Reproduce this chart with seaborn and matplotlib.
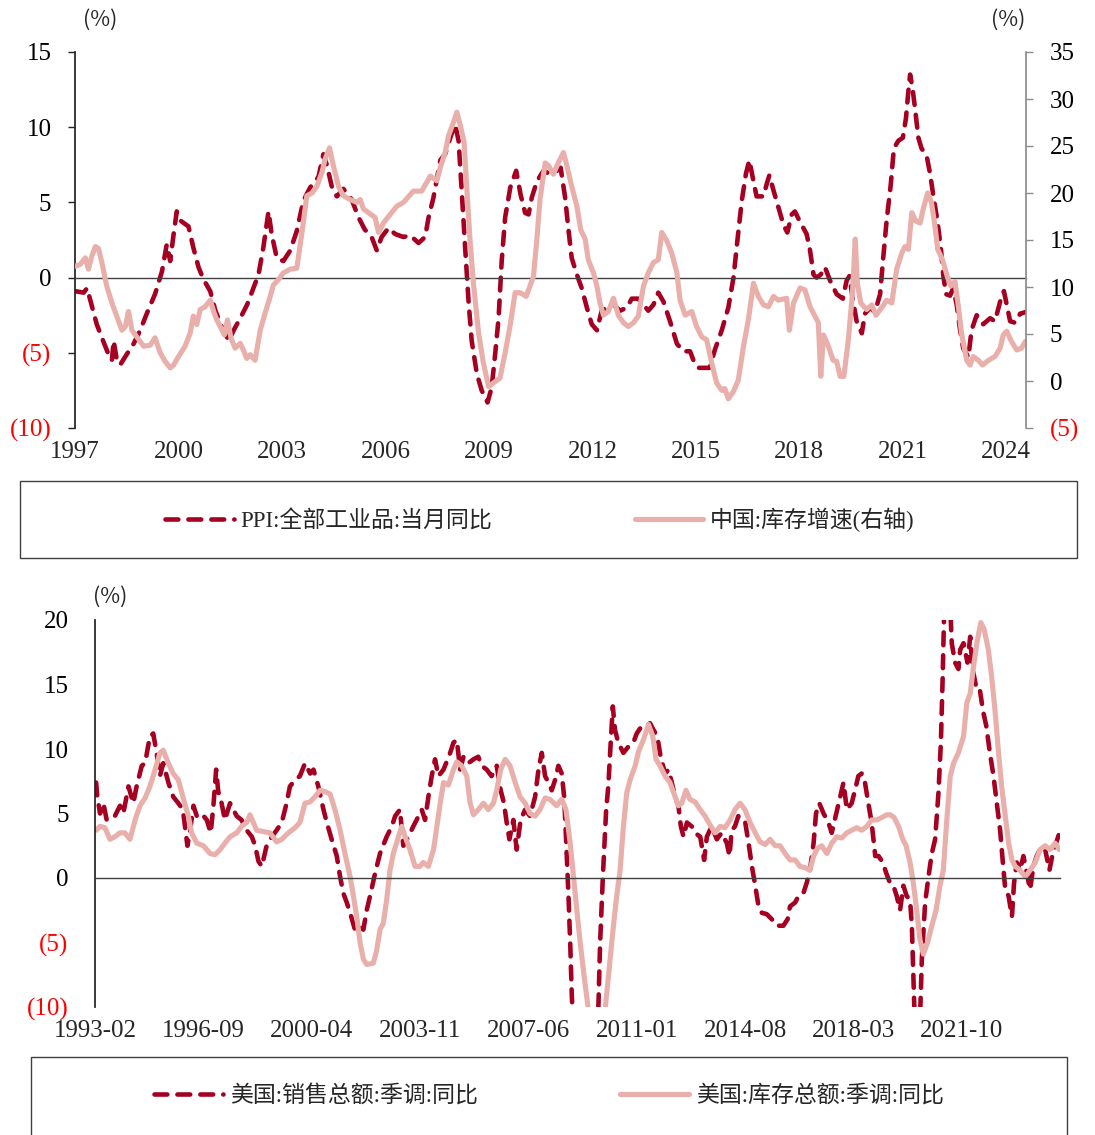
import matplotlib
matplotlib.use("Agg")
import matplotlib.pyplot as plt
from matplotlib.patches import Rectangle
import pandas as pd
import seaborn as sns

# ---- top panel: China PPI (left axis) vs China inventory growth (right axis)
ppi_year = [
    1997.00, 1997.25, 1997.35, 1997.50, 1997.63, 1997.78, 1997.97, 1998.07, 1998.12, 1998.20,
    1998.31, 1998.50, 1998.70, 1998.89, 1999.08, 1999.32, 1999.52, 1999.66, 1999.76, 1999.86,
    1999.95, 2000.05, 2000.29, 2000.43, 2000.58, 2000.72, 2000.92, 2001.07, 2001.26, 2001.46,
    2001.60, 2001.79, 2001.99, 2002.17, 2002.32, 2002.46, 2002.61, 2002.70, 2002.85, 2003.04,
    2003.24, 2003.43, 2003.62, 2003.82, 2004.06, 2004.20, 2004.30, 2004.45, 2004.59, 2004.78,
    2005.02, 2005.22, 2005.40, 2005.60, 2005.75, 2005.89, 2006.09, 2006.28, 2006.52, 2006.72,
    2006.96, 2007.15, 2007.25, 2007.39, 2007.59, 2007.73, 2007.88, 2008.02, 2008.12, 2008.21,
    2008.31, 2008.41, 2008.50, 2008.65, 2008.79, 2008.96, 2009.08, 2009.18, 2009.28, 2009.37,
    2009.47, 2009.62, 2009.79, 2009.92, 2010.05, 2010.15, 2010.24, 2010.39, 2010.58, 2010.77,
    2010.97, 2011.08, 2011.21, 2011.30, 2011.40, 2011.55, 2011.69, 2011.84, 2011.98, 2012.13,
    2012.27, 2012.42, 2012.61, 2012.80, 2013.00, 2013.14, 2013.33, 2013.48, 2013.62, 2013.77,
    2013.91, 2014.06, 2014.25, 2014.45, 2014.64, 2014.83, 2014.93, 2015.07, 2015.40, 2015.55,
    2015.75, 2015.94, 2016.09, 2016.20, 2016.33, 2016.45, 2016.55, 2016.67, 2016.76, 2016.96,
    2017.05, 2017.13, 2017.25, 2017.39, 2017.54, 2017.65, 2017.78, 2017.87, 2018.02, 2018.21,
    2018.31, 2018.41, 2018.50, 2018.62, 2018.74, 2018.89, 2019.08, 2019.26, 2019.37, 2019.45,
    2019.56, 2019.66, 2019.81, 2019.90, 2020.05, 2020.19, 2020.34, 2020.43, 2020.53, 2020.65,
    2020.74, 2020.87, 2021.00, 2021.09, 2021.16, 2021.21, 2021.28, 2021.35, 2021.45, 2021.54,
    2021.69, 2021.79, 2021.88, 2022.00, 2022.10, 2022.17, 2022.25, 2022.37, 2022.46, 2022.56,
    2022.66, 2022.75, 2022.90, 2022.99, 2023.14, 2023.33, 2023.53, 2023.67, 2023.82, 2023.93,
    2024.01, 2024.11, 2024.25, 2024.40, 2024.55,
]
ppi_val = [
    -0.9, -1.0, -0.7, -2.0, -3.1, -4.0, -5.1, -5.5, -4.2, -5.3,
    -5.8, -5.1, -4.4, -3.5, -2.4, -1.1, 0.4, 2.2, 1.1, 2.9,
    4.4, 3.8, 3.4, 2.0, 0.7, -0.1, -0.9, -2.2, -3.3, -4.2,
    -3.5, -2.7, -1.8, -0.7, 0.2, 2.0, 4.4, 2.9, 1.3, 1.1,
    1.8, 3.1, 5.1, 6.0, 6.7, 8.2, 7.5, 6.0, 5.4, 5.9,
    5.2, 4.0, 3.2, 2.7, 1.8, 2.7, 3.3, 2.9, 2.7, 2.8,
    2.3, 2.7, 4.0, 5.3, 7.8, 8.2, 9.3, 10.2, 9.1, 5.8,
    2.0, -1.6, -4.2, -6.4, -7.5, -8.3, -7.3, -5.1, -2.7, 1.1,
    4.0, 6.0, 7.1, 5.5, 4.3, 4.2, 5.3, 6.4, 7.1, 6.9,
    7.1, 7.3, 5.3, 3.3, 1.3, 0.2, -0.7, -2.0, -3.1, -3.5,
    -2.2, -2.0, -1.8, -2.2, -2.0, -1.4, -1.4, -1.8, -2.2, -1.8,
    -1.0, -1.6, -2.9, -4.4, -4.9, -4.9, -5.5, -6.0, -6.0, -4.8,
    -3.5, -2.0, 0.0, 2.4, 5.1, 6.9, 7.8, 6.4, 5.4, 5.4,
    6.2, 6.8, 5.8, 4.7, 3.5, 3.0, 4.2, 4.4, 3.7, 2.9,
    1.8, 0.2, 0.0, 0.2, 0.7, -0.2, -1.1, -1.4, -0.2, 0.1,
    -1.6, -2.9, -3.7, -2.4, -2.0, -2.3, -1.1, 1.3, 3.8, 6.2,
    8.6, 9.1, 9.3, 10.6, 12.4, 13.5, 12.6, 11.3, 9.3, 8.6,
    8.1, 6.9, 5.5, 3.8, 2.0, 0.2, -1.1, -1.2, -0.7, -1.8,
    -3.5, -4.7, -5.3, -3.5, -2.5, -3.1, -2.7, -2.9, -1.6, -0.9,
    -1.8, -2.9, -3.0, -2.4, -2.3,
]

cn_inv_year = [
    1997.00, 1997.15, 1997.30, 1997.39, 1997.49, 1997.59, 1997.68, 1997.78, 1997.92, 1998.07,
    1998.21, 1998.36, 1998.46, 1998.55, 1998.65, 1998.79, 1998.99, 1999.18, 1999.32, 1999.47,
    1999.61, 1999.76, 1999.86, 2000.00, 2000.19, 2000.34, 2000.43, 2000.53, 2000.63, 2000.77,
    2000.92, 2001.02, 2001.11, 2001.21, 2001.33, 2001.42, 2001.52, 2001.64, 2001.79, 2001.88,
    2001.98, 2002.08, 2002.22, 2002.37, 2002.51, 2002.66, 2002.75, 2002.90, 2003.04, 2003.24,
    2003.43, 2003.58, 2003.72, 2003.87, 2004.01, 2004.16, 2004.25, 2004.38, 2004.49, 2004.64,
    2004.78, 2004.98, 2005.17, 2005.27, 2005.36, 2005.51, 2005.70, 2005.80, 2005.94, 2006.09,
    2006.33, 2006.52, 2006.81, 2007.05, 2007.30, 2007.49, 2007.59, 2007.73, 2007.83, 2007.97,
    2008.07, 2008.17, 2008.28, 2008.36, 2008.45, 2008.55, 2008.70, 2008.84, 2008.99, 2009.13,
    2009.32, 2009.47, 2009.61, 2009.76, 2009.90, 2010.08, 2010.19, 2010.29, 2010.39, 2010.48,
    2010.63, 2010.73, 2010.87, 2011.01, 2011.16, 2011.26, 2011.40, 2011.55, 2011.66, 2011.79,
    2011.88, 2012.03, 2012.13, 2012.22, 2012.32, 2012.46, 2012.61, 2012.75, 2012.90, 2013.04,
    2013.19, 2013.33, 2013.48, 2013.62, 2013.77, 2013.91, 2014.01, 2014.16, 2014.30, 2014.45,
    2014.54, 2014.69, 2014.88, 2015.02, 2015.17, 2015.31, 2015.46, 2015.60, 2015.75, 2015.84,
    2015.94, 2016.09, 2016.23, 2016.38, 2016.52, 2016.67, 2016.81, 2016.96, 2017.10, 2017.25,
    2017.39, 2017.63, 2017.71, 2017.83, 2018.02, 2018.16, 2018.31, 2018.45, 2018.55, 2018.62,
    2018.70, 2018.84, 2018.98, 2019.08, 2019.18, 2019.29, 2019.42, 2019.54, 2019.62, 2019.68,
    2019.78, 2019.95, 2020.10, 2020.22, 2020.39, 2020.53, 2020.68, 2020.82, 2020.97, 2021.06,
    2021.16, 2021.26, 2021.38, 2021.50, 2021.59, 2021.72, 2021.83, 2021.93, 2022.01, 2022.15,
    2022.29, 2022.39, 2022.51, 2022.61, 2022.70, 2022.85, 2022.95, 2023.04, 2023.19, 2023.31,
    2023.48, 2023.67, 2023.82, 2023.91, 2024.01, 2024.15, 2024.30, 2024.44, 2024.55,
]
cn_inv_val = [
    12.2, 12.4, 13.1, 11.9, 13.3, 14.3, 14.1, 12.6, 10.1, 8.3,
    6.9, 5.4, 5.8, 7.4, 5.4, 4.7, 3.7, 3.8, 4.6, 3.0,
    2.1, 1.4, 1.7, 2.6, 3.7, 5.1, 6.9, 6.0, 7.6, 7.9,
    8.6, 7.4, 6.5, 5.8, 4.9, 6.5, 4.6, 3.5, 4.0, 3.3,
    2.4, 2.8, 2.2, 5.4, 7.2, 9.0, 10.2, 10.8, 11.5, 11.9,
    12.0, 15.8, 19.7, 20.0, 20.7, 22.2, 23.6, 24.8, 22.9, 20.7,
    19.7, 19.3, 19.0, 19.3, 18.3, 17.9, 17.4, 15.8, 16.8, 17.5,
    18.6, 19.0, 20.2, 20.2, 21.8, 21.3, 22.7, 24.3, 26.1, 27.5,
    28.6, 27.2, 25.4, 20.4, 15.1, 10.4, 5.1, 1.9, -0.6, -0.2,
    0.3, 3.0, 5.8, 9.4, 9.4, 9.0, 10.1, 11.1, 15.1, 19.3,
    23.2, 22.9, 22.0, 23.2, 24.3, 22.9, 20.7, 18.6, 16.1, 15.1,
    12.9, 11.5, 10.1, 8.3, 7.0, 7.4, 8.8, 7.0, 6.2, 5.8,
    6.2, 6.9, 10.1, 11.5, 12.6, 12.9, 15.8, 14.9, 13.6, 11.5,
    8.6, 7.0, 7.4, 5.8, 4.7, 4.4, 1.9, -0.2, -1.0, -0.8,
    -1.9, -1.1, 0.1, 3.7, 6.5, 10.4, 9.0, 8.1, 7.9, 9.0,
    8.6, 8.8, 5.4, 8.3, 9.9, 9.7, 7.9, 6.9, 6.2, 0.5,
    4.9, 3.7, 2.2, 2.1, 0.5, 0.5, 4.4, 9.4, 15.1, 10.4,
    8.3, 7.6, 8.1, 7.0, 7.8, 8.6, 8.3, 11.9, 13.6, 14.3,
    14.0, 17.9, 17.0, 16.8, 18.3, 20.0, 19.0, 16.5, 14.0, 12.9,
    11.1, 10.1, 10.6, 7.9, 5.1, 2.2, 1.7, 2.6, 2.2, 1.7,
    2.2, 2.6, 3.5, 4.9, 5.3, 4.2, 3.3, 3.5, 4.2,
]

top_xticks = ["1997", "2000", "2003", "2006", "2009", "2012", "2015", "2018", "2021", "2024"]
top_left_yticks = [-10, -5, 0, 5, 10, 15]
top_right_yticks = [-5, 0, 5, 10, 15, 20, 25, 30, 35]

# ---- bottom panel: US total business sales vs inventories, yoy
us_sales_year = [
    1993.12, 1993.16, 1993.25, 1993.36, 1993.47, 1993.63, 1993.74, 1993.91, 1994.02, 1994.19,
    1994.35, 1994.46, 1994.63, 1994.74, 1994.90, 1995.01, 1995.12, 1995.23, 1995.34, 1995.51,
    1995.67, 1995.84, 1995.99, 1996.14, 1996.23, 1996.34, 1996.45, 1996.61, 1996.78, 1996.91,
    1997.00, 1997.09, 1997.16, 1997.27, 1997.38, 1997.55, 1997.77, 1997.93, 1998.10, 1998.27,
    1998.38, 1998.49, 1998.60, 1998.76, 1998.93, 1999.09, 1999.26, 1999.42, 1999.53, 1999.70,
    1999.86, 2000.03, 2000.20, 2000.31, 2000.47, 2000.64, 2000.75, 2000.91, 2001.08, 2001.19,
    2001.30, 2001.41, 2001.52, 2001.68, 2001.79, 2001.96, 2002.07, 2002.18, 2002.35, 2002.51,
    2002.73, 2002.90, 2003.01, 2003.17, 2003.28, 2003.45, 2003.61, 2003.72, 2003.89, 2004.00,
    2004.11, 2004.22, 2004.33, 2004.44, 2004.61, 2004.83, 2004.94, 2005.05, 2005.16, 2005.27,
    2005.43, 2005.60, 2005.76, 2005.87, 2006.04, 2006.20, 2006.37, 2006.50, 2006.61, 2006.70,
    2006.79, 2006.92, 2007.03, 2007.16, 2007.31, 2007.47, 2007.64, 2007.75, 2007.86, 2007.97,
    2008.08, 2008.19, 2008.30, 2008.41, 2008.52, 2008.60, 2008.66, 2008.74, 2008.80, 2008.85,
    2008.95, 2009.10, 2009.30, 2009.50, 2009.65, 2009.73, 2009.79, 2009.88, 2009.99, 2010.06,
    2010.14, 2010.21, 2010.28, 2010.39, 2010.56, 2010.73, 2010.89, 2011.00, 2011.17, 2011.33,
    2011.44, 2011.55, 2011.68, 2011.79, 2011.94, 2012.05, 2012.16, 2012.27, 2012.38, 2012.46,
    2012.55, 2012.66, 2012.82, 2012.93, 2013.10, 2013.23, 2013.32, 2013.48, 2013.65, 2013.81,
    2013.98, 2014.07, 2014.14, 2014.25, 2014.36, 2014.47, 2014.59, 2014.70, 2014.81, 2014.92,
    2015.03, 2015.14, 2015.30, 2015.47, 2015.63, 2015.85, 2015.99, 2016.07, 2016.24, 2016.35,
    2016.51, 2016.62, 2016.73, 2016.85, 2016.93, 2017.04, 2017.18, 2017.34, 2017.45, 2017.60,
    2017.73, 2017.84, 2017.95, 2018.11, 2018.22, 2018.33, 2018.44, 2018.55, 2018.66, 2018.77,
    2018.89, 2019.00, 2019.14, 2019.25, 2019.38, 2019.49, 2019.60, 2019.71, 2019.82, 2019.93,
    2020.04, 2020.10, 2020.15, 2020.22, 2020.30, 2020.37, 2020.43, 2020.54, 2020.65, 2020.76,
    2020.87, 2020.98, 2021.06, 2021.12, 2021.20, 2021.27, 2021.37, 2021.42, 2021.53, 2021.64,
    2021.70, 2021.81, 2021.94, 2022.03, 2022.11, 2022.22, 2022.33, 2022.45, 2022.56, 2022.67,
    2022.80, 2022.91, 2023.02, 2023.11, 2023.19, 2023.30, 2023.41, 2023.48, 2023.57, 2023.68,
    2023.79, 2023.90, 2024.01, 2024.12, 2024.23, 2024.40, 2024.51, 2024.65, 2024.76, 2024.87,
    2024.98,
]
us_sales_val = [
    7.4, 6.3, 5.0, 5.8, 4.5, 4.7, 4.8, 5.6, 5.0, 7.1,
    5.8, 7.1, 8.7, 8.9, 11.0, 11.2, 9.7, 7.9, 8.9, 7.4,
    6.3, 5.8, 5.3, 2.5, 3.7, 5.6, 4.8, 5.0, 4.5, 3.5,
    5.6, 8.4, 6.7, 5.8, 4.5, 5.8, 4.8, 4.5, 3.7, 3.2,
    2.5, 1.3, 0.9, 2.5, 3.2, 3.7, 4.3, 5.8, 7.1, 7.6,
    7.9, 8.9, 8.1, 8.4, 7.1, 5.3, 4.3, 3.0, 1.7, 0.1,
    -1.2, -1.9, -2.7, -4.0, -3.7, -4.0, -2.5, -1.4, 0.4, 1.9,
    3.2, 4.0, 4.8, 5.3, 2.5, 3.2, 4.0, 4.5, 5.3, 4.5,
    6.3, 7.9, 9.2, 7.9, 8.4, 9.7, 10.5, 10.7, 8.4, 9.4,
    8.9, 9.2, 9.4, 8.7, 8.4, 7.9, 8.7, 6.8, 5.8, 4.3,
    3.0, 4.5, 2.2, 4.5, 5.3, 4.8, 6.3, 8.4, 9.7, 7.9,
    7.4, 6.8, 7.6, 8.7, 8.1, 6.3, 3.2, -1.2, -5.0, -8.9,
    -14.5, -18.0, -19.0, -16.0, -13.0, -10.2, -5.0, 0.1, 5.3, 7.1,
    10.5, 13.3, 11.5, 10.5, 9.7, 10.2, 10.5, 11.2, 11.8, 11.8,
    12.0, 11.5, 11.0, 9.4, 8.1, 8.4, 7.4, 6.3, 5.6, 4.0,
    3.2, 4.3, 4.0, 3.5, 3.2, 1.4, 3.2, 4.0, 3.0, 3.5,
    2.7, 1.7, 3.7, 4.0, 4.8, 4.4, 4.3, 2.7, 0.9, -0.6,
    -2.2, -2.7, -2.8, -3.2, -3.7, -3.7, -3.2, -2.2, -1.9, -1.4,
    -1.2, -0.4, 0.6, 2.7, 5.0, 5.8, 5.0, 4.3, 3.5, 5.0,
    6.3, 7.4, 5.3, 5.8, 6.8, 7.9, 8.1, 7.4, 5.8, 4.3,
    1.7, 1.7, 1.2, 0.4, -0.4, -0.6, -1.4, -2.5, -0.6, -1.4,
    -1.7, -3.7, -7.6, -13.0, -16.0, -11.0, -6.3, -1.9, 0.1, 1.9,
    3.0, 6.6, 10.5, 15.6, 24.0, 28.0, 21.0, 18.2, 16.7, 16.2,
    17.7, 18.2, 16.7, 18.7, 16.2, 14.9, 14.9, 13.0, 11.8, 9.9,
    7.9, 5.8, 3.7, 1.2, -0.9, -1.4, -3.0, -0.4, 1.2, 0.6,
    1.7, 0.4, -0.9, 0.9, 1.7, 2.5, 2.2, 0.6, 1.9, 2.7,
    3.5,
]

us_inv_year = [
    1993.12, 1993.25, 1993.41, 1993.58, 1993.74, 1993.91, 1994.07, 1994.24, 1994.41, 1994.57,
    1994.74, 1994.90, 1995.07, 1995.23, 1995.34, 1995.51, 1995.67, 1995.84, 1995.99, 1996.17,
    1996.28, 1996.45, 1996.67, 1996.89, 1997.05, 1997.22, 1997.38, 1997.55, 1997.77, 1997.93,
    1998.10, 1998.21, 1998.32, 1998.43, 1998.65, 1998.87, 1999.09, 1999.26, 1999.48, 1999.70,
    1999.86, 2000.03, 2000.20, 2000.36, 2000.53, 2000.69, 2000.86, 2001.02, 2001.19, 2001.35,
    2001.52, 2001.63, 2001.74, 2001.85, 2001.96, 2002.07, 2002.29, 2002.40, 2002.51, 2002.62,
    2002.73, 2002.84, 2002.95, 2003.12, 2003.23, 2003.34, 2003.50, 2003.67, 2003.83, 2003.94,
    2004.11, 2004.28, 2004.39, 2004.50, 2004.61, 2004.77, 2004.94, 2005.05, 2005.21, 2005.38,
    2005.49, 2005.60, 2005.76, 2005.93, 2006.09, 2006.26, 2006.37, 2006.50, 2006.65, 2006.81,
    2006.98, 2007.14, 2007.31, 2007.47, 2007.64, 2007.80, 2007.97, 2008.13, 2008.35, 2008.52,
    2008.66, 2008.80, 2008.91, 2009.02, 2009.13, 2009.26, 2009.40, 2009.55, 2009.70, 2009.80,
    2009.90, 2010.01, 2010.12, 2010.23, 2010.34, 2010.45, 2010.56, 2010.67, 2010.78, 2010.95,
    2011.06, 2011.22, 2011.39, 2011.53, 2011.64, 2011.77, 2011.94, 2012.10, 2012.27, 2012.38,
    2012.49, 2012.63, 2012.76, 2012.93, 2013.10, 2013.26, 2013.43, 2013.59, 2013.76, 2013.92,
    2014.09, 2014.25, 2014.42, 2014.58, 2014.75, 2014.92, 2015.08, 2015.25, 2015.41, 2015.58,
    2015.74, 2015.91, 2016.07, 2016.24, 2016.40, 2016.57, 2016.73, 2016.85, 2016.98, 2017.12,
    2017.29, 2017.45, 2017.62, 2017.78, 2017.95, 2018.11, 2018.28, 2018.44, 2018.61, 2018.77,
    2018.94, 2019.11, 2019.27, 2019.38, 2019.51, 2019.66, 2019.80, 2019.91, 2020.04, 2020.15,
    2020.26, 2020.37, 2020.48, 2020.62, 2020.76, 2020.90, 2021.03, 2021.14, 2021.25, 2021.37,
    2021.48, 2021.64, 2021.81, 2021.92, 2022.03, 2022.14, 2022.25, 2022.38, 2022.49, 2022.63,
    2022.74, 2022.85, 2022.96, 2023.07, 2023.19, 2023.30, 2023.41, 2023.52, 2023.68, 2023.85,
    2024.01, 2024.18, 2024.34, 2024.51, 2024.67, 2024.84, 2024.98,
]
us_inv_val = [
    3.7, 4.0, 3.9, 3.0, 3.2, 3.5, 3.5, 3.0, 4.5, 5.6,
    6.2, 7.1, 8.4, 9.7, 9.9, 8.9, 8.1, 7.6, 6.3, 4.8,
    3.5, 2.7, 2.5, 1.9, 1.8, 2.2, 2.7, 3.2, 3.5, 4.0,
    4.3, 4.9, 4.3, 3.7, 3.6, 3.5, 2.8, 3.0, 3.5, 3.9,
    4.3, 5.8, 5.9, 6.3, 6.8, 6.7, 6.5, 5.3, 3.7, 1.9,
    0.1, -1.4, -3.0, -5.0, -6.3, -6.7, -6.6, -5.6, -4.0, -3.5,
    -1.7, 0.6, 1.9, 3.2, 4.0, 3.2, 2.2, 0.9, 0.9, 1.2,
    0.9, 2.2, 4.0, 5.8, 7.4, 7.2, 8.4, 9.0, 8.7, 7.9,
    5.8, 4.9, 5.3, 5.8, 5.3, 5.8, 6.8, 8.4, 9.2, 8.7,
    7.4, 6.3, 5.8, 5.0, 4.8, 5.3, 6.2, 6.1, 5.6, 6.1,
    5.3, 2.7, 0.1, -2.5, -5.0, -7.6, -10.2, -12.5, -13.5, -12.8,
    -11.5, -8.9, -6.3, -3.7, -1.4, 0.6, 4.0, 6.6, 7.6, 8.7,
    9.8, 10.7, 11.9, 11.0, 9.2, 8.7, 7.9, 7.4, 6.3, 5.6,
    5.8, 6.8, 6.1, 5.9, 5.3, 4.8, 4.1, 3.5, 4.0, 3.9,
    4.5, 5.3, 5.8, 5.3, 4.3, 3.5, 2.8, 2.6, 3.0, 2.5,
    2.5, 1.9, 1.4, 1.4, 0.9, 0.8, 0.6, 1.7, 2.3, 2.5,
    1.9, 2.7, 3.2, 3.1, 3.5, 3.7, 3.9, 3.7, 4.0, 4.5,
    4.5, 4.7, 4.9, 4.9, 4.7, 4.0, 3.0, 2.5, 1.2, -0.4,
    -2.5, -4.8, -5.9, -5.0, -3.7, -2.5, -0.6, 0.6, 4.3, 7.9,
    8.9, 9.7, 11.0, 13.6, 14.3, 16.4, 18.2, 19.8, 19.3, 17.7,
    15.6, 13.0, 9.9, 7.1, 4.8, 2.7, 1.4, 0.9, 0.6, 0.1,
    0.6, 1.2, 2.2, 2.5, 2.2, 2.7, 2.2,
]

bottom_xticks = ["1993-02", "1996-09", "2000-04", "2003-11", "2007-06",
                 "2011-01", "2014-08", "2018-03", "2021-10"]
bottom_yticks = [-10, -5, 0, 5, 10, 15, 20]

top_labels = ["PPI:全部工业品:当月同比", "中国:库存增速(右轴)"]
bottom_labels = ["美国:销售总额:季调:同比", "美国:库存总额:季调:同比"]

DARK_RED = "#A50021"
PINK = "#E9AFAB"
W, H = 1095, 1135
LW_DASH = 3.3
LW_SOLID = 3.7


def tick_text(v):
    return f"({abs(v)})" if v < 0 else str(v)


def style_yticks(ax, ticks):
    ax.set_yticks(ticks)
    ax.set_yticklabels([tick_text(t) for t in ticks])
    for t, lab in zip(ticks, ax.get_yticklabels()):
        lab.set_color("#FF0000" if t < 0 else "black")


def zero_axis(ax, positions, labels, tick_len):
    # x axis drawn along y=0, labels pushed to the bottom of the panel
    ax.spines["bottom"].set_position(("data", 0))
    ax.spines["bottom"].set_color("#404040")
    ax.spines["bottom"].set_linewidth(1.0)
    ax.set_xticks(positions)
    ax.tick_params(axis="x", direction="out", length=tick_len, width=1,
                   color="#404040", labelbottom=False)
    for x, lab in zip(positions, labels):
        ax.annotate(lab, xy=(x, 0), xycoords=("data", "axes fraction"),
                    xytext=(0, -17.5), textcoords="offset points",
                    ha="center", va="center", fontsize=18)


def dashed(line):
    line.set_dashes((2.8, 2.2))
    line.set_dash_capstyle("round")


sns.set_theme(style="white")
plt.rcParams["font.family"] = ["Liberation Serif", "Noto Sans CJK SC", "DejaVu Sans"]

fig = plt.figure(figsize=(W / 100, H / 100), dpi=100)

# ================= top panel =================
ax1 = fig.add_axes([75 / W, 1 - 428 / H, (1026 - 75) / W, (428 - 52) / H])
ax1r = ax1.twinx()

top_ppi = pd.DataFrame({"year": ppi_year, "val": ppi_val})
top_inv = pd.DataFrame({"year": cn_inv_year, "val": cn_inv_val})

sns.lineplot(data=top_ppi, x="year", y="val", ax=ax1, color=DARK_RED,
             linewidth=LW_DASH, label=top_labels[0])
h_ppi = ax1.get_lines()[-1]
dashed(h_ppi)
sns.lineplot(data=top_inv, x="year", y="val", ax=ax1r, color=PINK,
             linewidth=LW_SOLID, label=top_labels[1])
h_cn = ax1r.get_lines()[-1]
for a in (ax1, ax1r):
    if a.get_legend() is not None:
        a.get_legend().remove()

ax1.set_xlim(1997, 2024.57)
ax1.set_ylim(-10, 15)
ax1r.set_ylim(-5, 35)
for a in (ax1, ax1r):
    a.set_xlabel("")
    a.set_ylabel("")
    a.grid(False)

style_yticks(ax1, top_left_yticks)
style_yticks(ax1r, top_right_yticks)
ax1.tick_params(axis="y", direction="out", length=5, width=1, color="#222222",
                pad=12, labelsize=18)
ax1r.tick_params(axis="y", direction="out", length=5, width=1, color="#8C8C8C",
                 pad=12, labelsize=18)
for s in ("top", "right"):
    ax1.spines[s].set_visible(False)
for s in ("top", "left", "bottom"):
    ax1r.spines[s].set_visible(False)
ax1.spines["left"].set_color("#222222")
ax1r.spines["right"].set_color("#8C8C8C")
zero_axis(ax1, [int(t) for t in top_xticks], top_xticks, 6)

pct_font = ["Noto Sans CJK SC", "DejaVu Sans"]
fig.text(100 / W, 1 - 20 / H, "(%)", ha="center", va="center", fontsize=15.5, family=pct_font)
fig.text(1008 / W, 1 - 20 / H, "(%)", ha="center", va="center", fontsize=15.5, family=pct_font)

# ================= bottom panel =================
ax2 = fig.add_axes([95 / W, 1 - 1007 / H, (1060 - 95) / W, (1007 - 620) / H])
bot_sales = pd.DataFrame({"year": us_sales_year, "val": us_sales_val})
bot_inv = pd.DataFrame({"year": us_inv_year, "val": us_inv_val})

sns.lineplot(data=bot_sales, x="year", y="val", ax=ax2, color=DARK_RED,
             linewidth=LW_DASH, label=bottom_labels[0])
h_sales = ax2.get_lines()[-1]
dashed(h_sales)
sns.lineplot(data=bot_inv, x="year", y="val", ax=ax2, color=PINK,
             linewidth=LW_SOLID, label=bottom_labels[1])
h_usinv = ax2.get_lines()[-1]
if ax2.get_legend() is not None:
    ax2.get_legend().remove()

ax2.set_xlim(1993 + 1 / 12, 2025.0)
ax2.set_ylim(-10, 20)
ax2.set_xlabel("")
ax2.set_ylabel("")
ax2.grid(False)
style_yticks(ax2, bottom_yticks)
ax2.tick_params(axis="y", direction="out", length=5, width=1, color="#222222",
                pad=14, labelsize=18)
for s in ("top", "right"):
    ax2.spines[s].set_visible(False)
ax2.spines["left"].set_color("#222222")
bx = [int(s[:4]) + (int(s[5:]) - 1) / 12 for s in bottom_xticks]
zero_axis(ax2, bx, bottom_xticks, 5)

fig.text(110 / W, 1 - 597 / H, "(%)", ha="center", va="center", fontsize=15.5, family=pct_font)

# ================= legends =================
fig.add_artist(Rectangle((20 / W, 1 - 558 / H), (1077 - 20) / W, (558 - 481) / H,
                         transform=fig.transFigure, fill=False,
                         edgecolor="#404040", linewidth=1.0))
fig.legend([h_ppi, h_cn], top_labels, loc="center",
           bbox_to_anchor=(540 / W, 1 - 520 / H), ncol=2, frameon=False,
           fontsize=16.5, handlelength=3.0, handletextpad=0.3, columnspacing=6.2)

fig.add_artist(Rectangle((31 / W, -0.05), (1067 - 31) / W, 0.05 + 1 - 1057 / H,
                         transform=fig.transFigure, fill=False,
                         edgecolor="#404040", linewidth=1.0))
fig.legend([h_sales, h_usinv], bottom_labels, loc="center",
           bbox_to_anchor=(549 / W, 1 - 1096 / H), ncol=2, frameon=False,
           fontsize=16.5, handlelength=3.0, handletextpad=0.3, columnspacing=6.2)

fig.savefig("out.png", dpi=100)
plt.close(fig)
